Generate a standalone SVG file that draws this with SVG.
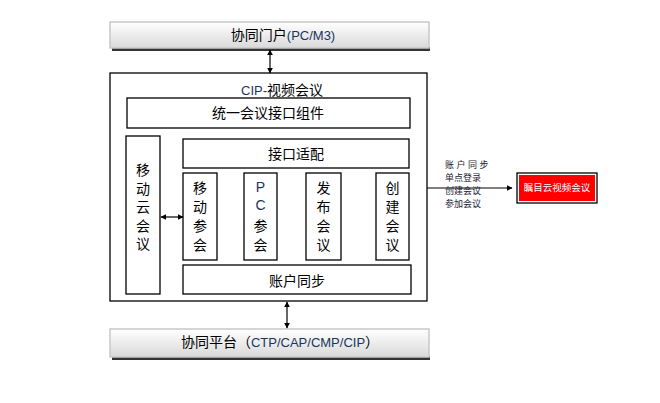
<svg xmlns="http://www.w3.org/2000/svg" width="660" height="403" viewBox="0 0 660 403">
<defs>
<linearGradient id="barg" x1="0" y1="0" x2="0" y2="1">
<stop offset="0" stop-color="#ffffff"/>
<stop offset="1" stop-color="#d9d9d9"/>
</linearGradient>
<marker id="ah" viewBox="0 0 10 10" refX="9" refY="5" markerWidth="6" markerHeight="6" orient="auto-start-reverse" markerUnits="userSpaceOnUse">
<path d="M0,0 L10,5 L0,10 z" fill="#000"/>
</marker>
<style>
.box{fill:#fff;stroke:#000;stroke-width:1.3}
.bar{fill:url(#barg);stroke:#c8c8c8;stroke-width:1.5}
.sh{fill:#333}
.t{font-family:"Noto Sans CJK SC","Liberation Sans",sans-serif;font-size:14px;fill:#000}
.v{font-family:"Noto Sans CJK SC","Liberation Sans",sans-serif;font-size:14px;fill:#000;text-anchor:middle}
.vl{font-family:"Liberation Sans",sans-serif;font-size:14px;fill:#17365D;text-anchor:middle}
.l{font-family:"Liberation Sans",sans-serif;font-size:13px}
.b{fill:#17365D}
.s{font-family:"Noto Sans CJK SC","Liberation Sans",sans-serif;font-size:9px;fill:#1a1a33}
.ln{stroke:#000;stroke-width:1.2;fill:none}
</style>
</defs>
<rect width="660" height="403" fill="#fff"/>

<g id="portal">
<rect class="sh" x="112" y="47" width="318" height="4"/>
<rect class="bar" x="110" y="22" width="319" height="26"/>
<text class="t" x="283" y="40" text-anchor="middle">协同门户<tspan class="b l">(PC/M3)</tspan></text>
</g>

<g id="platform">
<rect class="sh" x="112" y="356" width="318" height="4"/>
<rect class="bar" x="110" y="329" width="319" height="28"/>
<text class="t" x="280" y="347" text-anchor="middle">协同平台（<tspan class="b l">CTP/CAP/CMP/CIP</tspan>）</text>
</g>

<g id="cip">
<rect class="box" x="110" y="73" width="317" height="228"/>
<text class="t" x="282" y="95" text-anchor="middle"><tspan class="b l">CIP-</tspan>视频会议</text>
</g>

<g id="unified">
<rect class="box" x="127" y="98" width="283" height="30"/>
<text class="t" x="268" y="118" text-anchor="middle">统一会议接口组件</text>
</g>

<g id="mobilecloud">
<rect class="box" x="126" y="136" width="34" height="158"/>
<text class="v" x="143" y="175">移</text>
<text class="v" x="143" y="193.5">动</text>
<text class="v" x="143" y="212">云</text>
<text class="v" x="143" y="230.5">会</text>
<text class="v" x="143" y="249">议</text>
</g>

<g id="adapter">
<rect class="box" x="183" y="139" width="226" height="29"/>
<text class="t" x="296" y="159" text-anchor="middle">接口适配</text>
</g>

<g id="mobilejoin">
<rect class="box" x="183" y="173" width="34" height="87"/>
<text class="v" x="200" y="193">移</text>
<text class="v" x="200" y="212">动</text>
<text class="v" x="200" y="231">参</text>
<text class="v" x="200" y="250">会</text>
</g>

<g id="pcjoin">
<rect class="box" x="244" y="173" width="33" height="87"/>
<text class="vl" x="260.5" y="192">P</text>
<text class="vl" x="260.5" y="210">C</text>
<text class="v" x="260.5" y="231">参</text>
<text class="v" x="260.5" y="250">会</text>
</g>

<g id="publish">
<rect class="box" x="306" y="173" width="35" height="87"/>
<text class="v" x="323.5" y="193">发</text>
<text class="v" x="323.5" y="212">布</text>
<text class="v" x="323.5" y="231">会</text>
<text class="v" x="323.5" y="250">议</text>
</g>

<g id="create">
<rect class="box" x="376" y="173" width="33" height="87"/>
<text class="v" x="392.5" y="193">创</text>
<text class="v" x="392.5" y="212">建</text>
<text class="v" x="392.5" y="231">会</text>
<text class="v" x="392.5" y="250">议</text>
</g>

<g id="accountsync">
<rect class="box" x="183" y="265" width="228" height="29"/>
<text class="t" x="297" y="286" text-anchor="middle">账户同步</text>
</g>

<g id="zhumu">
<rect x="517" y="173" width="80" height="30" fill="#fff" stroke="#000" stroke-width="1.3"/>
<rect x="519" y="175" width="76" height="26" fill="#ff0000"/>
<text x="557" y="191" text-anchor="middle" font-family="Noto Sans CJK SC, Liberation Sans, sans-serif" font-size="9.5" fill="#fff">瞩目云视频会议</text>
</g>

<g id="connectors">
<line class="ln" x1="270" y1="50" x2="270" y2="73" marker-start="url(#ah)" marker-end="url(#ah)"/>
<line class="ln" x1="287" y1="302" x2="287" y2="328" marker-start="url(#ah)" marker-end="url(#ah)"/>
<line class="ln" x1="161" y1="217" x2="183" y2="217" marker-start="url(#ah)" marker-end="url(#ah)"/>
<line class="ln" x1="427" y1="188" x2="512" y2="188" marker-end="url(#ah)"/>
<text class="s" x="445" y="168" letter-spacing="2.5">账户同步</text>
<text class="s" x="445" y="181">单点登录</text>
<text class="s" x="445" y="194">创建会议</text>
<text class="s" x="445" y="207">参加会议</text>
</g>
</svg>
